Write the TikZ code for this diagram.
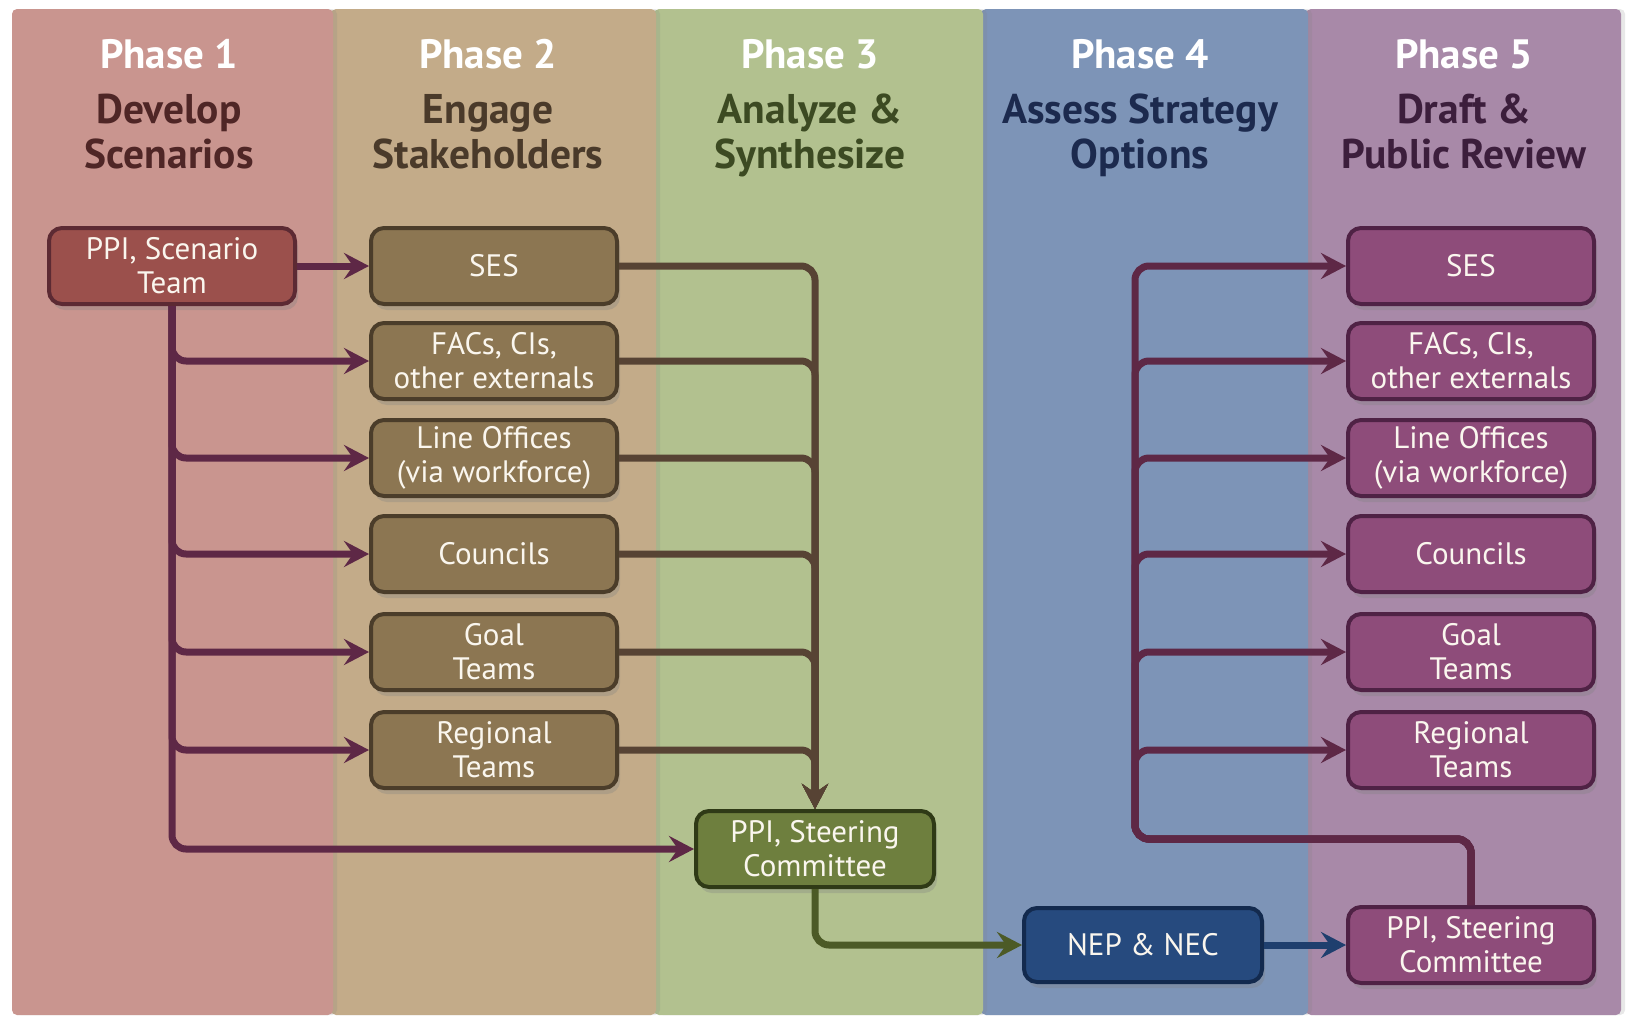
\documentclass[tikz,border=0pt]{standalone}
\usepackage{fontspec}
\setmainfont{PT Sans}
\usetikzlibrary{arrows.meta,shadows,calc}
\definecolor{pa}{HTML}{C9958F}
\definecolor{pb}{HTML}{C3AB89}
\definecolor{pc}{HTML}{B2C18F}
\definecolor{pd}{HTML}{7D94B7}
\definecolor{pe}{HTML}{A889A8}
\definecolor{ta}{HTML}{4F2626}
\definecolor{tb}{HTML}{4A3A2A}
\definecolor{tc}{HTML}{3C4A22}
\definecolor{td}{HTML}{1C2A4E}
\definecolor{te}{HTML}{3C1E3C}
\definecolor{fa}{HTML}{9B504C}\definecolor{da}{HTML}{5C2A33}
\definecolor{fb}{HTML}{8C7652}\definecolor{db}{HTML}{4B3D2A}
\definecolor{fc}{HTML}{6E7F3E}\definecolor{dc}{HTML}{2F3A16}
\definecolor{fd}{HTML}{264A7E}\definecolor{dd}{HTML}{132A4E}
\definecolor{fe}{HTML}{8E4C7A}\definecolor{de}{HTML}{4F2245}
\definecolor{aone}{HTML}{5E2846}
\definecolor{athree}{HTML}{574334}
\definecolor{agreen}{HTML}{4C5A26}
\definecolor{ablue}{HTML}{1F3F6E}
\definecolor{boxtext}{HTML}{FAF6EE}
\begin{document}
\begin{tikzpicture}[x=1pt,y=-1pt,
  panel/.style={rounded corners=5pt, drop shadow={shadow xshift=4pt, shadow yshift=0pt, opacity=0.18}},
  phasetitle/.style={font=\fontsize{41}{46}\selectfont\bfseries, text=white},
  subtitle/.style={font=\fontsize{41.5}{45}\selectfont\bfseries, align=center},
  box/.style={rounded corners=13pt, line width=4pt, minimum width=246pt, minimum height=76pt,
    align=center, text=boxtext, font=\fontsize{31}{34}\selectfont, inner xsep=4pt,
    drop shadow={shadow xshift=3pt, shadow yshift=-6pt, opacity=0.3}},
  boxa/.style={box, fill=fa, draw=da},
  boxb/.style={box, fill=fb, draw=db},
  boxc/.style={box, fill=fc, draw=dc, minimum width=238pt},
  boxd/.style={box, fill=fd, draw=dd, minimum width=238pt, minimum height=74pt},
  boxe/.style={box, fill=fe, draw=de},
  conn/.style={line width=7pt, rounded corners=14pt, -{Stealth[length=25pt,width=26pt,inset=9pt]}},
  cone/.style={conn, draw=aone},
  cthree/.style={conn, draw=athree},
  cgreen/.style={conn, draw=agreen},
  cblue/.style={conn, draw=ablue},
]
\useasboundingbox (0,0) rectangle (1628,1017);
\fill[white] (0,0) rectangle (1628,1017);
% panels (drawn right to left so shadows fall on the next panel)
\path[panel, fill=pe] (1306,9) rectangle (1621,1015);
\path[panel, fill=pd] (981,9) rectangle (1308,1015);
\path[panel, fill=pc] (654,9) rectangle (983,1015);
\path[panel, fill=pb] (331,9) rectangle (656,1015);
\path[panel, fill=pa] (12,9) rectangle (333,1015);
% titles
\node[phasetitle] (h1) at (169,59) {Phase 1\strut};
\node[phasetitle] (h2) at (488,59) {Phase 2\strut};
\node[phasetitle] (h3) at (810,59) {Phase 3\strut};
\node[phasetitle] (h4) at (1140,59) {Phase 4\strut};
\node[phasetitle] (h5) at (1464,59) {Phase 5\strut};
\node[subtitle, text=ta] (s1) at (169,137) {Develop\strut\\Scenarios\strut};
\node[subtitle, text=tb] (s2) at (488,137) {Engage\strut\\Stakeholders\strut};
\node[subtitle, text=tc] (s3) at (810,137) {Analyze \&\strut\\Synthesize\strut};
\node[subtitle, text=td] (s4) at (1140,137) {Assess Strategy\strut\\Options\strut};
\node[subtitle, text=te] (s5) at (1464,137) {Draft \&\strut\\Public Review\strut};
% boxes
\node[boxa] (p1) at (172,266) {PPI, Scenario\\Team};
\node[boxb] (b1) at (494,266) {SES};
\node[boxb] (b2) at (494,361) {FACs, CIs,\\other externals};
\node[boxb] (b3) at (494,458) {Line Offices\\(via workforce)};
\node[boxb] (b4) at (494,554) {Councils};
\node[boxb] (b5) at (494,652) {Goal\\Teams};
\node[boxb] (b6) at (494,750) {Regional\\Teams};
\node[boxc] (st3) at (815,849) {PPI, Steering\\Committee};
\node[boxd] (nep) at (1143,945) {NEP \& NEC};
\node[boxe] (e1) at (1471,266) {SES};
\node[boxe] (e2) at (1471,361) {FACs, CIs,\\other externals};
\node[boxe] (e3) at (1471,458) {Line Offices\\(via workforce)};
\node[boxe] (e4) at (1471,554) {Councils};
\node[boxe] (e5) at (1471,652) {Goal\\Teams};
\node[boxe] (e6) at (1471,750) {Regional\\Teams};
\node[boxe] (st5) at (1471,945) {PPI, Steering\\Committee};
\coordinate (j5) at (1135,839);
% phase 1 connectors
\draw[cone] (p1.east) -- (b1.west);
\foreach \b in {b2,b3,b4,b5,b6}{\draw[cone] (p1.south) |- (\b.west);}
\draw[cone] (p1.south) |- (st3.west);
% phase 3 connectors
\foreach \b in {b1,b2,b3,b4,b5,b6}{\draw[cthree] (\b.east) -| (st3.north);}
\draw[cgreen] (st3.south) |- (nep.west);
\draw[cblue] (nep.east) -- (st5.west);
% phase 5 connectors
\foreach \e in {e1,e2,e3,e4,e5,e6}{\draw[cone] (st5.north) |- (j5) |- (\e.west);}
\end{tikzpicture}
\end{document}
